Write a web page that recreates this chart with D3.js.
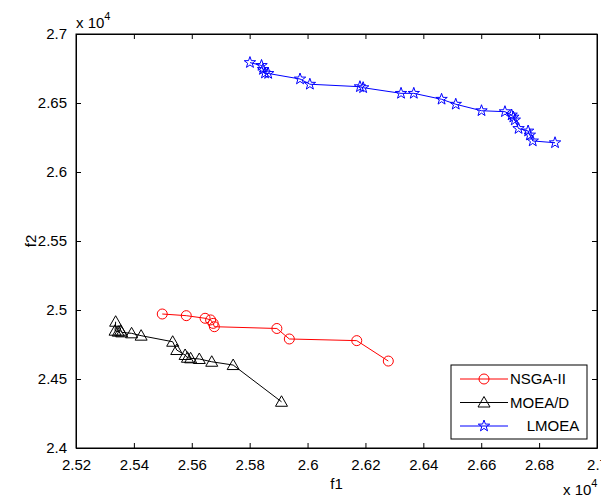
<!DOCTYPE html>
<html>
<head>
<meta charset="utf-8">
<script src="https://cdn.jsdelivr.net/npm/d3@7"></script>
<style>
  body { margin: 0; background: #fff; }
  svg { display: block; font-family: "Liberation Sans", Arial, sans-serif; }
</style>
</head>
<body>
<script>
// ---------------- data ----------------
const nsgaF1 = [25498, 25581, 25646, 25665, 25674, 25678, 25894, 25937, 26170, 26279];
const nsgaF2 = [24971, 24959, 24940, 24928, 24903, 24879, 24866, 24790, 24778, 24630];

const moeadF1 = [25337, 25335, 25346, 25354, 25358, 25392, 25425, 25534, 25548, 25577, 25585, 25596, 25626, 25669, 25743, 25910];
const moeadF2 = [24915, 24850, 24843, 24850, 24838, 24831, 24814, 24770, 24710, 24674, 24654, 24650, 24645, 24625, 24601, 24335];

const lmoeaF1 = [25801, 25841, 25846, 25853, 25864, 25974, 26008, 26181, 26192, 26323, 26367, 26463, 26512, 26601, 26682, 26705, 26711, 26716, 26729, 26762, 26768, 26778, 26855];
const lmoeaF2 = [26793, 26772, 26743, 26717, 26714, 26674, 26636, 26618, 26611, 26570, 26570, 26527, 26491, 26444, 26437, 26413, 26398, 26377, 26315, 26297, 26268, 26225, 26212];

const xTicks = [25200, 25400, 25600, 25800, 26000, 26200, 26400, 26600, 26800, 27000];
const xTickLabels = ["2.52", "2.54", "2.56", "2.58", "2.6", "2.62", "2.64", "2.66", "2.68", "2.7"];
const yTicks = [24000, 24500, 25000, 25500, 26000, 26500, 27000];
const yTickLabels = ["2.4", "2.45", "2.5", "2.55", "2.6", "2.65", "2.7"];

const seriesNames = ["NSGA-II", "MOEA/D", "    LMOEA"];
const seriesColors = ["#ff0000", "#000000", "#0000ff"];

// ---------------- layout ----------------
const width = 601, height = 499;
const mLeft = 76, mRight = 597, mTop = 34, mBottom = 448;
const fontSize = 15;

const svg = d3.select("body").append("svg")
  .attr("width", width)
  .attr("height", height);

const x = d3.scaleLinear().domain([25200, 27000]).range([mLeft, mRight]);
const y = d3.scaleLinear().domain([24000, 27000]).range([mBottom, mTop]);

// marker shapes (MATLAB style o, ^, pentagram)
function circlePath() {
  return d3.symbol().type(d3.symbolCircle).size(Math.PI * 25)();
}
function trianglePath() {
  return "M0,-6L6,4.5L-6,4.5Z";
}
function starPath() {
  let pts = [];
  for (let k = 0; k < 10; k++) {
    let r = k % 2 == 0 ? 6 : 2.4;
    let a = -Math.PI / 2 + k * Math.PI / 5;
    pts.push([r * Math.cos(a), r * Math.sin(a)]);
  }
  return "M" + pts.map(p => p[0].toFixed(2) + "," + p[1].toFixed(2)).join("L") + "Z";
}
const markers = [circlePath, trianglePath, starPath];

// ---------------- axes ----------------
const fmtX = (d, i) => xTickLabels[i];
const fmtY = (d, i) => yTickLabels[i];

svg.append("g")
  .attr("transform", "translate(0," + mBottom + ")")
  .call(d3.axisBottom(x).tickValues(xTicks).tickFormat(fmtX).tickSize(-5).tickSizeOuter(0).tickPadding(11))
  .call(g => g.selectAll("text").attr("font-size", fontSize).attr("fill", "#000"));

svg.append("g")
  .attr("transform", "translate(0," + mTop + ")")
  .call(d3.axisTop(x).tickValues(xTicks).tickFormat("").tickSize(-5).tickSizeOuter(0));

svg.append("g")
  .attr("transform", "translate(" + mLeft + ",0)")
  .call(d3.axisLeft(y).tickValues(yTicks).tickFormat(fmtY).tickSize(-5).tickSizeOuter(0).tickPadding(9))
  .call(g => g.selectAll("text").attr("font-size", fontSize).attr("fill", "#000"));

svg.append("g")
  .attr("transform", "translate(" + mRight + ",0)")
  .call(d3.axisRight(y).tickValues(yTicks).tickFormat("").tickSize(-5).tickSizeOuter(0));

svg.selectAll("g").attr("font-family", null).attr("font-size", null);
svg.selectAll(".domain").attr("stroke", "#000");
svg.selectAll(".tick line").attr("stroke", "#000");

// box
svg.append("rect")
  .attr("x", mLeft).attr("y", mTop)
  .attr("width", mRight - mLeft).attr("height", mBottom - mTop)
  .attr("fill", "none").attr("stroke", "#000");

// exponent labels
function exponent(xp, yp) {
  const t = svg.append("text").attr("x", xp).attr("y", yp).attr("font-size", fontSize);
  t.append("tspan").text("x 10");
  t.append("tspan").attr("dy", -8).attr("font-size", 11).text("4");
}
exponent(76, 28);
exponent(563, 495);

// axis titles
svg.append("text")
  .attr("x", (mLeft + mRight) / 2).attr("y", 489)
  .attr("text-anchor", "middle").attr("font-size", fontSize)
  .text("f1");
svg.append("text")
  .attr("transform", "translate(36," + ((mTop + mBottom) / 2) + ") rotate(-90)")
  .attr("text-anchor", "middle").attr("font-size", fontSize)
  .text("f2");

// ---------------- series ----------------
const series = [
  nsgaF1.map((d, i) => [d, nsgaF2[i]]),
  moeadF1.map((d, i) => [d, moeadF2[i]]),
  lmoeaF1.map((d, i) => [d, lmoeaF2[i]])
];

const line = d3.line()
  .x(d => x(d[0]))
  .y(d => y(d[1]));

const plot = svg.append("g").attr("id", "plot");

for (let i = 0; i < series.length; i++) {
  plot.append("path")
    .datum(series[i])
    .attr("d", line)
    .attr("fill", "none")
    .attr("stroke", seriesColors[i])
    .attr("stroke-width", 1);

  plot.selectAll(".m" + i)
    .data(series[i])
    .enter().append("path")
    .attr("class", "m" + i)
    .attr("transform", d => "translate(" + x(d[0]) + "," + y(d[1]) + ")")
    .attr("d", markers[i]())
    .attr("fill", "none")
    .attr("stroke", seriesColors[i])
    .attr("stroke-width", 1);
}

// ---------------- legend ----------------
const legend = svg.append("g").attr("id", "legend");
legend.append("rect")
  .attr("x", 451).attr("y", 365)
  .attr("width", 136).attr("height", 74)
  .attr("fill", "#fff").attr("stroke", "#000");

for (let i = 0; i < seriesNames.length; i++) {
  const ly = 379 + i * 23.5;
  legend.append("line")
    .attr("x1", 460).attr("x2", 508)
    .attr("y1", ly).attr("y2", ly)
    .attr("stroke", seriesColors[i]);
  legend.append("path")
    .attr("transform", "translate(484," + ly + ")")
    .attr("d", markers[i]())
    .attr("fill", "none")
    .attr("stroke", seriesColors[i]);
  legend.append("text")
    .attr("x", 510).attr("y", ly)
    .attr("dy", "0.35em")
    .attr("font-size", fontSize)
    .style("white-space", "pre")
    .text(seriesNames[i]);
}
</script>
</body>
</html>
